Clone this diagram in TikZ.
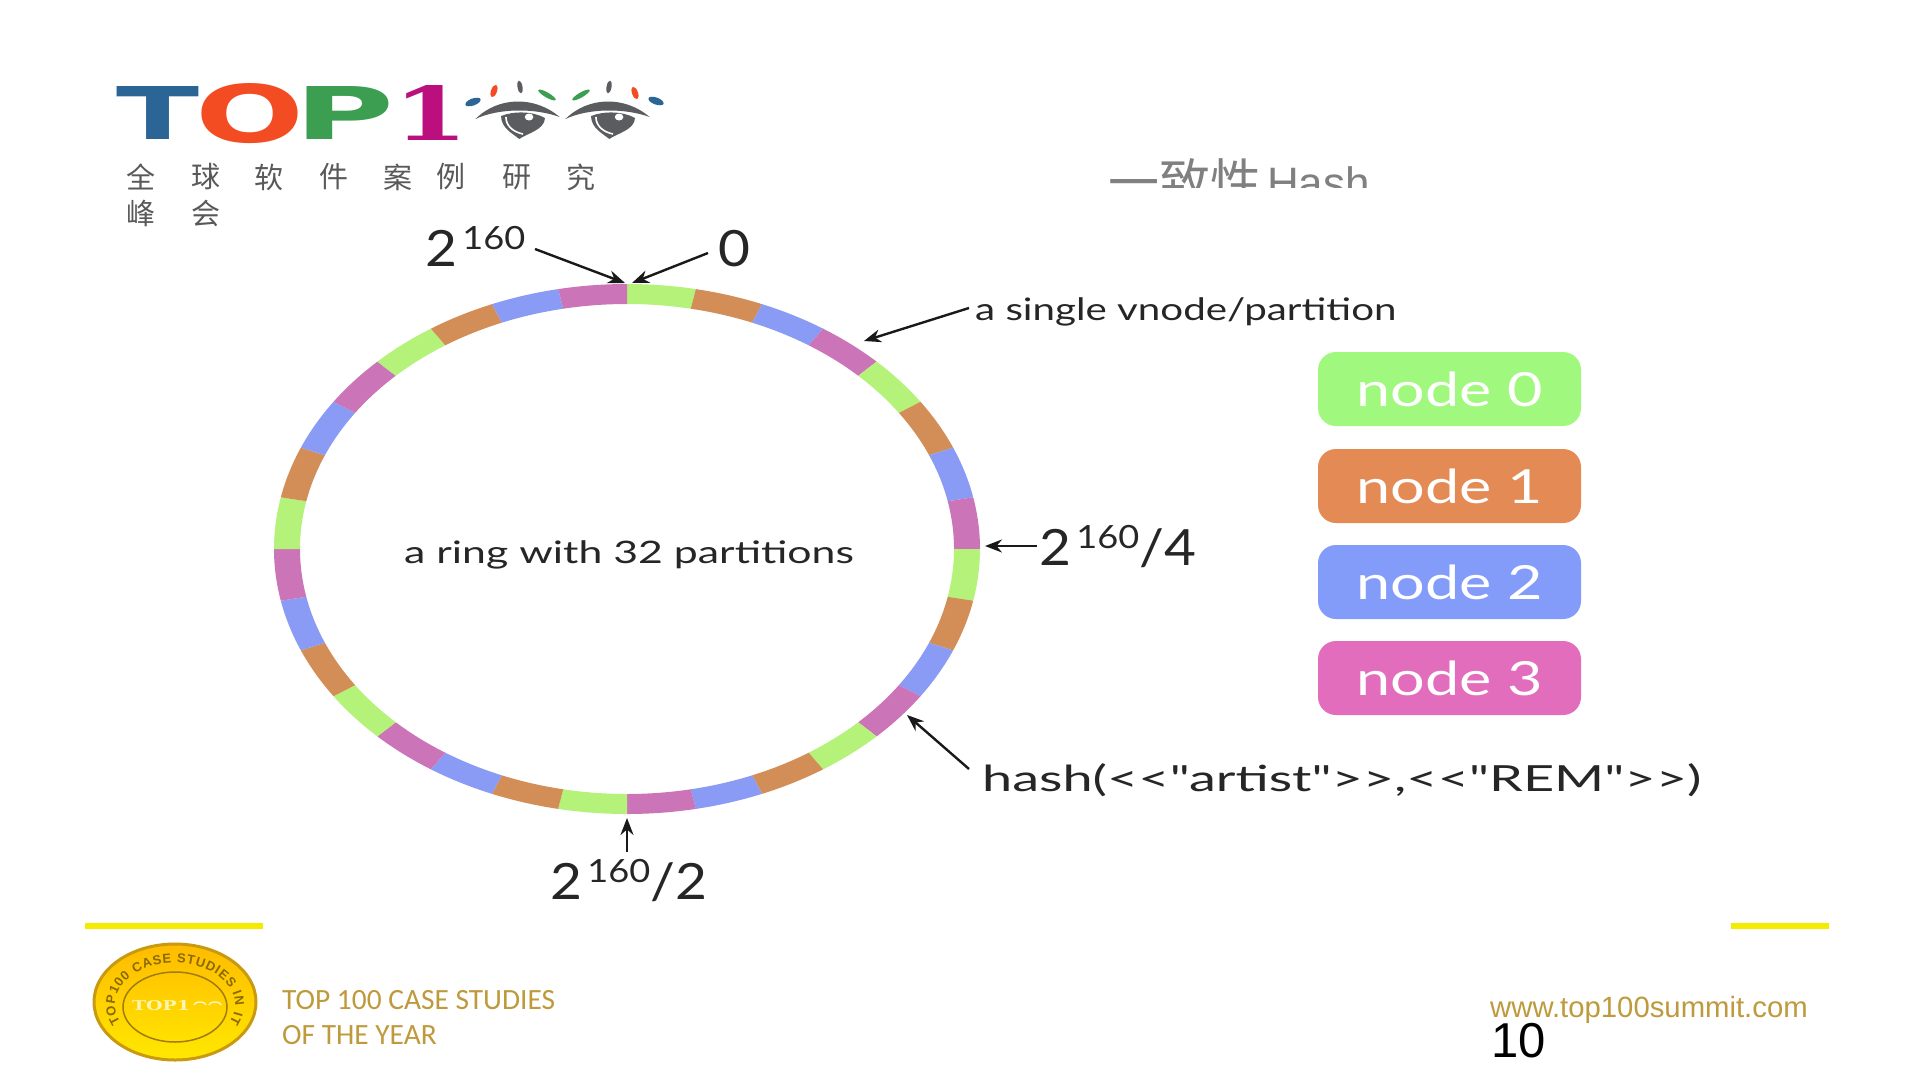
\documentclass[tikz,border=0pt]{standalone}
\usepackage{fontspec}
\usepackage{graphicx}
\usetikzlibrary{arrows.meta,decorations.text}
\setmainfont{Lato}
\newfontfamily\cjkfont{Noto Sans CJK SC}
\newfontfamily\arialfont{Liberation Sans}
\newfontfamily\calfont{Carlito}
\newfontfamily\logofont{DejaVu Sans}
\newfontfamily\logoserif{DejaVu Serif}
\newfontfamily\smallfont[FakeStretch=1.30]{Lato}
\newfontfamily\ringfont[FakeStretch=1.38]{Lato}
\newfontfamily\bigfont[FakeStretch=1.1]{Lato}
\newfontfamily\supfont[FakeStretch=1.13]{Lato}
\newfontfamily\boxfont[FakeStretch=1.3]{Lato}
\newfontfamily\hashfont[FakeStretch=1.5]{Lato}
\definecolor{ringc0}{HTML}{B5F27A}
\definecolor{ringc1}{HTML}{D38E58}
\definecolor{ringc2}{HTML}{8A9BF5}
\definecolor{ringc3}{HTML}{CC74B8}
\definecolor{boxc0}{HTML}{A0F97E}
\definecolor{boxc1}{HTML}{E38A55}
\definecolor{boxc2}{HTML}{839CF9}
\definecolor{boxc3}{HTML}{E26DBC}
\definecolor{logoblue}{HTML}{2B6596}
\definecolor{logored}{HTML}{F44C22}
\definecolor{logogreen}{HTML}{3B9E50}
\definecolor{logopink}{HTML}{BA0F7C}
\definecolor{eyegrey}{HTML}{5A5C60}
\definecolor{captgrey}{HTML}{595959}
\definecolor{footgold}{HTML}{BF9A3C}
\definecolor{baryellow}{HTML}{F5EB00}
\definecolor{medaltext}{HTML}{8A6A00}
\definecolor{medaltop}{HTML}{FFBB00}
\definecolor{medalbot}{HTML}{FFE800}
\definecolor{medalline}{HTML}{C99A10}
\definecolor{medalpale}{HTML}{FFF5B0}
\newcommand{\powlabel}[1]{2\raisebox{17pt}{\fontsize{32}{36}\supfont\,160}#1}
\tikzset{
	lbl/.style={inner sep=0,anchor=base west,text=black!85},
	biglbl/.style={lbl,font=\fontsize{50}{56}\bigfont},
	smalllbl/.style={lbl,font=\fontsize{31}{36}\smallfont},
	boxnode/.style={rounded corners=18pt,minimum width=263pt,minimum height=74pt,inner sep=0,text=white,font=\fontsize{47}{52}\boxfont},
	logochar/.style={inner sep=0,anchor=north west},
	captchar/.style={inner sep=0,text=captgrey,font=\fontsize{29}{32}\cjkfont},
	ptr/.style={-{Stealth[length=17pt,width=13pt]},line width=2.4pt,black!90},
}
\begin{document}
\begin{tikzpicture}[x=1pt,y=-1pt]
	\useasboundingbox (0,0) rectangle (1919,1079);
	\fill[white] (0,0) rectangle (1919,1079);
	%Logo
	\node[logochar,text=logoblue,font=\logofont\bfseries] (logot) at (116,86) {\resizebox{83pt}{53pt}{T}};
	\node[logochar,text=logored,font=\logofont\bfseries] (logoo) at (195,83) {\resizebox{109pt}{59pt}{O}};
	\node[logochar,text=logogreen,font=\logofont\bfseries] (logop) at (294,86) {\resizebox{100pt}{53pt}{P}};
	\node[logochar,text=logopink,font=\logoserif\bfseries] (logoone) at (393,85) {\resizebox{75pt}{55pt}{1}};
	\foreach \ex in {523,613}{
		\begin{scope}[shift={(\ex,122)},xscale=1.22]
			\fill[eyegrey] (-39,-3) .. controls (-20,-26) and (10,-26) .. (30,-5) .. controls (10,-14) and (-20,-14) .. cycle;
			\fill[eyegrey] (-18,-6) .. controls (-18,6) and (-8,12) .. (-3,17) .. controls (2,12) and (18,8) .. (18,-4) .. controls (8,-11) and (-8,-11) .. cycle;
			\draw[white,line width=1.6pt] (-14,-5) .. controls (-14,4) and (-8,10) .. (0,12);
			\fill[white] (5,-5) circle (3.5);
		\end{scope}
	}
	\fill[logoblue,rotate around={20:(473,102)}] (473,102) ellipse (8 and 3.5);
	\fill[logored,rotate around={70:(494,91)}] (494,91) ellipse (6.5 and 3);
	\fill[eyegrey,rotate around={100:(520,87)}] (520,87) ellipse (6.5 and 2.5);
	\fill[logogreen,rotate around={-30:(547,95)}] (547,95) ellipse (10 and 2.5);
	\fill[logogreen,rotate around={30:(581,95)}] (581,95) ellipse (10 and 2.5);
	\fill[eyegrey,rotate around={80:(609,87)}] (609,87) ellipse (6.5 and 2.5);
	\fill[logored,rotate around={-70:(635,93)}] (635,93) ellipse (6.5 and 3);
	\fill[logoblue,rotate around={-20:(656,101)}] (656,101) ellipse (8 and 3.5);
	\foreach \cx/\cy/\ch [count=\n] in {141/177/全,206/177/球,269/177/软,334/177/件,398/177/案,451/177/例,517/177/研,581/177/究,141/213/峰,206/213/会}{
		\node[captchar] (capt\n) at (\cx,\cy) {\ch};
	}
	%Titulo
	\begin{scope}
		\clip (1090,140) rectangle (1400,187);
		\node[lbl,text=black!50,font=\fontsize{51}{56}\cjkfont] (titlecjk) at (1108,201) {一致性};
		\node[lbl,text=black!50,font=\fontsize{44}{48}\arialfont] (titlehash) at (1267,198) {Hash};
	\end{scope}
	%Anillo
	\begin{scope}[shift={(627,549)}]
		\foreach \i in {0,...,31}{
			\pgfmathsetmacro{\aa}{-90+11.25*\i}
			\pgfmathsetmacro{\ab}{-90+11.25*(\i+1)}
			\pgfmathtruncatemacro{\k}{mod(\i,4)}
			\fill[ringc\k] (\aa:353 and 265) arc[start angle=\aa,end angle=\ab,x radius=353,y radius=265]
				-- (\ab:327 and 245) arc[start angle=\ab,end angle=\aa,x radius=327,y radius=245] -- cycle;
		}
	\end{scope}
	\node[smalllbl,font=\fontsize{31}{36}\ringfont] (ringname) at (404,563) {a ring with 32 partitions};
	%Etiquetas
	\node[biglbl] (lblpow) at (425,266) {\powlabel{}};
	\node[biglbl] (lblzero) at (718,266) {0};
	\node[smalllbl] (lblvnode) at (975,320) {a single vnode/partition};
	\node[biglbl] (lblquarter) at (1039,565) {\powlabel{/4}};
	\node[biglbl] (lblhalf) at (550,899) {\powlabel{/2}};
	\node[lbl,font=\fontsize{36}{40}\hashfont] (lblhash) at (982,791) {hash(<{}<"artist">{}>,<{}<"REM">{}>)};
	\coordinate (tiptopleft) at (625,283);
	\coordinate (tiptopright) at (632,283);
	\coordinate (tipvnode) at (864,341);
	\coordinate (tipquarter) at (985,546);
	\coordinate (tiphash) at (907,715);
	\coordinate (tiphalf) at (627,818);
	\coordinate (fromhash) at (969,769);
	\draw[ptr] (535,249) -- (tiptopleft);
	\draw[ptr] (708,253) -- (tiptopright);
	\draw[ptr] (969,308) -- (tipvnode);
	\draw[ptr] (1037,546) -- (tipquarter);
	\draw[ptr] (fromhash) -- (tiphash);
	\draw[ptr] (627,852) -- (tiphalf);
	%Leyenda
	\node[boxnode,fill=boxc0] (node0) at (1449.5,389) {node 0};
	\node[boxnode,fill=boxc1] (node1) at (1449.5,486) {node 1};
	\node[boxnode,fill=boxc2] (node2) at (1449.5,582) {node 2};
	\node[boxnode,fill=boxc3] (node3) at (1449.5,678) {node 3};
	%Pie
	\fill[baryellow] (85,923) rectangle (263,929);
	\fill[baryellow] (1731,923) rectangle (1829,929);
	\fill[bottom color=medalbot,top color=medaltop,draw=medalline,line width=3pt] (175,1002) ellipse (81 and 58);
	\draw[medalline!80!black,line width=1.5pt] (175,1007) ellipse (52 and 35);
	\path[decorate,decoration={text along path,text align=fit to path,text={|\fontsize{13}{14}\arialfont\bfseries\color{medaltext}|TOP100 CASE STUDIES IN IT}}]
		(175,1005) ++(155:60 and 42) arc[start angle=155,end angle=385,x radius=60,y radius=42];
	\node[inner sep=0,text=medalpale,font=\logoserif\bfseries] (medalname) at (161,1006) {\resizebox{58pt}{10pt}{TOP1}};
	\draw[medalpale,line width=1.5pt] (194,1005) arc[start angle=180,end angle=360,x radius=6,y radius=3] (209,1005) arc[start angle=180,end angle=360,x radius=6,y radius=3];
	\node[lbl,text=footgold,font=\fontsize{29.4}{34}\calfont] (foota) at (282,1009) {TOP 100 CASE STUDIES};
	\node[lbl,text=footgold,font=\fontsize{29.4}{34}\calfont] (footb) at (282,1044) {OF THE YEAR};
	\node[lbl,text=footgold,font=\fontsize{29.3}{34}\arialfont] (footurl) at (1490,1017) {www.top100summit.com};
	\node[lbl,text=black,font=\fontsize{49}{54}\arialfont] (pagenum) at (1491,1057) {10};
\end{tikzpicture}
\end{document}
